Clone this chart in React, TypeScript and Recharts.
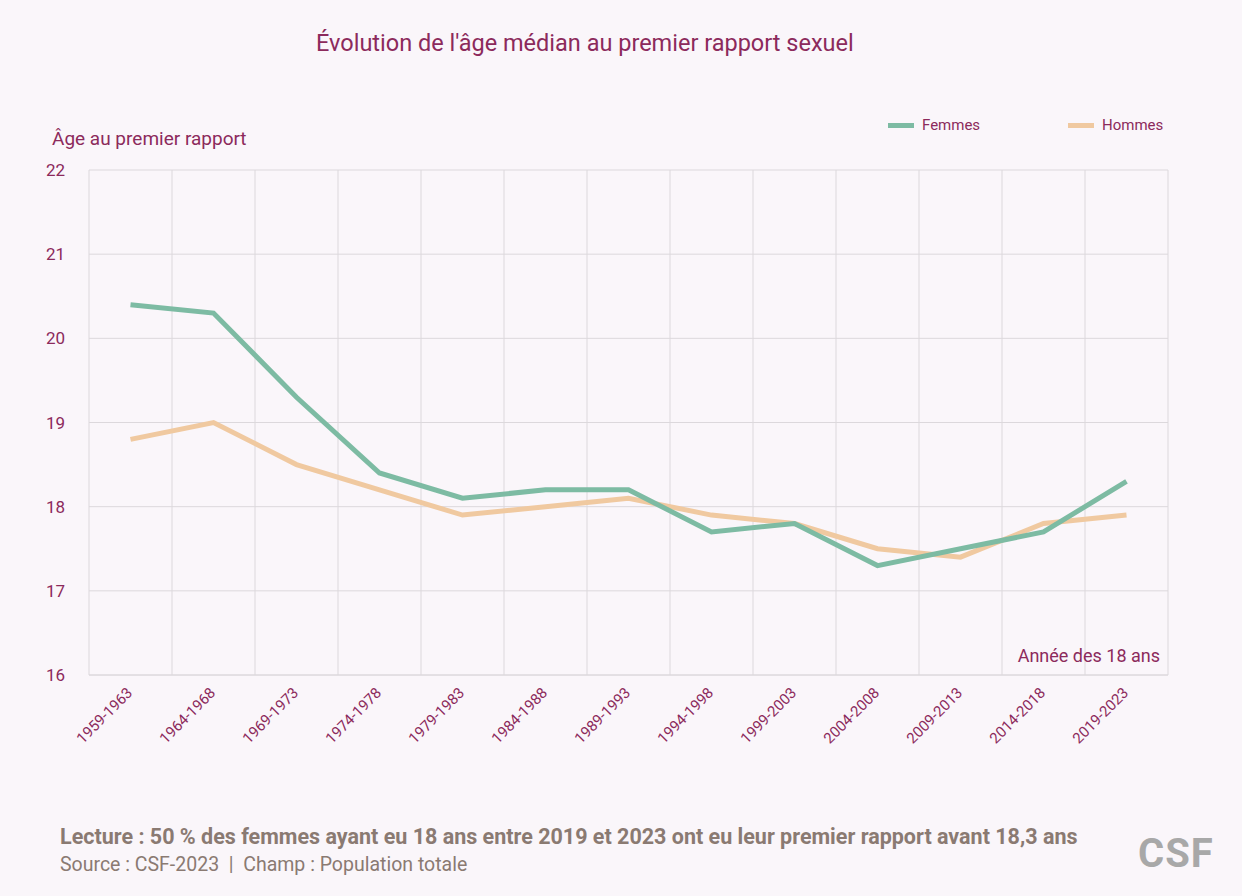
import React from 'react';
import { LineChart, Line, XAxis, YAxis, CartesianGrid } from 'recharts';

const periods = ['1959-1963','1964-1968','1969-1973','1974-1978','1979-1983','1984-1988','1989-1993','1994-1998','1999-2003','2004-2008','2009-2013','2014-2018','2019-2023'];
const femmes = [20.4,20.3,19.3,18.4,18.1,18.2,18.2,17.7,17.8,17.3,17.5,17.7,18.3];
const hommes = [18.8,19.0,18.5,18.2,17.9,18.0,18.1,17.9,17.8,17.5,17.4,17.8,17.9];
const yTicks = [16,17,18,19,20,21,22];

const data = periods.map((p, i) => ({ x: i + 0.5, label: p, femmes: femmes[i], hommes: hommes[i] }));
const centerTicks = periods.map((_, i) => i + 0.5);
const edgeTicks = periods.map((_, i) => i).concat([periods.length]);

const plum = '#8c2a5c';
const font = 'Roboto, "Open Sans", sans-serif';

const XTick = (props: any) => {
  const { x, y, payload } = props;
  const label = periods[Math.round(payload.value - 0.5)];
  return (
    <text x={x} y={y + 8} transform={`rotate(-45 ${x} ${y + 8})`} textAnchor="end" fill={plum} fontSize={15} fontFamily={font} dy={4}>
      {label}
    </text>
  );
};

export default function App() {
  return (
    <div style={{ position: 'fixed', left: 0, top: 0, width: 1242, height: 896, background: '#faf6fa', fontFamily: font, overflow: 'hidden' }}>
      <div style={{ position: 'absolute', left: 316, top: 29, fontSize: 23.5, color: plum }}>Évolution de l'âge médian au premier rapport sexuel</div>
      <div style={{ position: 'absolute', left: 52, top: 127, fontSize: 19, color: plum }}>Âge au premier rapport</div>
      <div style={{ position: 'absolute', left: 888, top: 116, fontSize: 15, color: plum, display: 'flex', alignItems: 'center' }}>
        <span style={{ display: 'inline-block', width: 26, height: 5, background: '#7dbba3', marginRight: 8 }} />Femmes
      </div>
      <div style={{ position: 'absolute', left: 1068, top: 116, fontSize: 15, color: plum, display: 'flex', alignItems: 'center' }}>
        <span style={{ display: 'inline-block', width: 26, height: 5, background: '#f0c9a0', marginRight: 8 }} />Hommes
      </div>
      <div style={{ position: 'absolute', left: 0, top: 0 }}>
        <LineChart width={1242} height={800} data={data} margin={{ top: 170, right: 74, bottom: 0, left: 0 }}>
          <XAxis xAxisId="grid" dataKey="x" type="number" domain={[0, periods.length]} ticks={edgeTicks} hide />
          <CartesianGrid xAxisId="grid" stroke="#dcd8dc" strokeWidth={1} />
          <XAxis dataKey="x" type="number" domain={[0, periods.length]} ticks={centerTicks} interval={0} tick={<XTick />} tickLine={false} axisLine={{ stroke: '#dcd8dc' }} height={125} />
          <YAxis domain={[16, 22]} ticks={yTicks} tick={{ fill: plum, fontSize: 17, fontFamily: font }} tickLine={false} axisLine={false} width={89} tickMargin={18} />
          <Line dataKey="hommes" stroke="#f0c9a0" strokeWidth={5} dot={false} isAnimationActive={false} />
          <Line dataKey="femmes" stroke="#7dbba3" strokeWidth={5} dot={false} isAnimationActive={false} />
        </LineChart>
      </div>
      <div style={{ position: 'absolute', right: 82, top: 645, fontSize: 18, color: plum }}>Année des 18 ans</div>
      <div style={{ position: 'absolute', left: 60, top: 824, fontSize: 21.5, fontWeight: 700, color: '#8a7a72' }}>Lecture : 50 % des femmes ayant eu 18 ans entre 2019 et 2023 ont eu leur premier rapport avant 18,3 ans</div>
      <div style={{ position: 'absolute', left: 60, top: 853, fontSize: 19.5, color: '#8a7a72' }}>Source : CSF-2023&nbsp; |&nbsp; Champ : Population totale</div>
      <div style={{ position: 'absolute', left: 1138, top: 830, fontSize: 40, fontWeight: 700, color: '#a8a8a8', letterSpacing: 1 }}>CSF</div>
    </div>
  );
}
